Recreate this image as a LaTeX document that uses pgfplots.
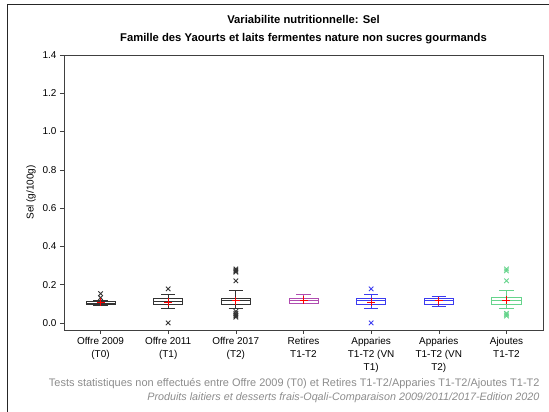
\documentclass[border=0pt]{standalone}
\usepackage{fontspec}
\setmainfont{Liberation Sans}
\usepackage{pgfplots}
\pgfplotsset{compat=1.18}
\usepgfplotslibrary{statistics}

\definecolor{c2009}{HTML}{333333}
\definecolor{cret}{HTML}{B04CB0}
\definecolor{capp}{HTML}{3C3CF0}
\definecolor{cajo}{HTML}{66D48C}
\definecolor{cfoot}{HTML}{8C8C8C}

\pgfplotsset{
	bx/.style={draw=#1, line width=0.9pt, fill=white, solid, mark=x, mark size=3.2bp,
		mark options={draw=#1, line width=0.9pt, solid}},
}

\begin{document}
\begin{tikzpicture}
\begin{axis}[
	name=ax,
	scale only axis,
	width=479bp, height=275bp,
	xmin=0.46, xmax=7.54,
	ymin=-0.037, ymax=1.4,
	axis line style={draw=black!75, line width=0.8pt},
	tick align=outside,
	tick style={black!75, line width=0.6pt},
	major tick length=4bp,
	xtick={1,...,7},
	xticklabels={{Offre 2009\\(T0)},{Offre 2011\\(T1)},{Offre 2017\\(T2)},{Retires\\T1-T2},{Apparies\\T1-T2 (VN\\T1)},{Apparies\\T1-T2 (VN\\T2)},{Ajoutes\\T1-T2}},
	xticklabel style={align=center, font=\fontsize{10}{13}\selectfont},
	ytick={0,0.2,...,1.4},
	yticklabel style={font=\fontsize{10}{11}\selectfont},
	yticklabel={\pgfmathprintnumber[fixed,fixed zerofill,precision=1]{\tick}},
	/pgf/number format/assume math mode=true,
	xtick pos=bottom, ytick pos=left,
	ylabel={Sel (g/100g)},
	ylabel style={font=\fontsize{10}{11}\selectfont},
	boxplot/draw direction=y,
	boxplot/box extend=0.43,
	boxplot/whisker extend=0.21,
	title style={align=center, font=\bfseries\fontsize{11.3}{14}\selectfont, yshift=2bp},
	title={Variabilite nutritionnelle: Sel\\[4bp]Famille des Yaourts et laits fermentes nature non sucres gourmands},
]
% Offre 2009
\addplot+[bx=c2009,
	boxplot prepared={draw position=1, lower whisker=0.092, lower quartile=0.097, median=0.104, upper quartile=0.113, upper whisker=0.115}]
	coordinates {(1,0.153) (1,0.132)};
% Offre 2011
\addplot+[bx=c2009,
	boxplot prepared={draw position=2, lower whisker=0.078, lower quartile=0.095, median=0.112, upper quartile=0.130, upper whisker=0.148}]
	coordinates {(2,0.178) (2,0.0)};
% Offre 2017
\addplot+[bx=c2009,
	boxplot prepared={draw position=3, lower whisker=0.078, lower quartile=0.099, median=0.116, upper quartile=0.130, upper whisker=0.169}]
	coordinates {(3,0.282) (3,0.276) (3,0.270) (3,0.265) (3,0.22) (3,0.06) (3,0.05) (3,0.042) (3,0.036) (3,0.03)};
% Retires
\addplot+[bx=cret,
	boxplot prepared={draw position=4, lower whisker=0.100, lower quartile=0.100, median=0.118, upper quartile=0.130, upper whisker=0.150}]
	coordinates {};
% Apparies VN T1
\addplot+[bx=capp,
	boxplot prepared={draw position=5, lower whisker=0.078, lower quartile=0.097, median=0.115, upper quartile=0.130, upper whisker=0.150}]
	coordinates {(5,0.178) (5,0.0)};
% Apparies VN T2
\addplot+[bx=capp,
	boxplot prepared={draw position=6, lower whisker=0.088, lower quartile=0.097, median=0.115, upper quartile=0.130, upper whisker=0.139}]
	coordinates {};
% Ajoutes
\addplot+[bx=cajo,
	boxplot prepared={draw position=7, lower whisker=0.078, lower quartile=0.097, median=0.116, upper quartile=0.132, upper whisker=0.170}]
	coordinates {(7,0.282) (7,0.272) (7,0.22) (7,0.05) (7,0.042) (7,0.036)};
% means
\addplot[only marks, mark=+, mark size=4bp, red, line width=0.9pt]
	coordinates {(1,0.107) (2,0.108) (3,0.115) (4,0.118) (5,0.107) (6,0.115) (7,0.12)};
\end{axis}
\node[anchor=east, text=cfoot, font=\fontsize{11}{12}\selectfont] at ([yshift=-54bp]ax.south east) {Tests statistiques non effectués entre Offre 2009 (T0) et Retires T1-T2/Apparies T1-T2/Ajoutes T1-T2};
\node[anchor=east, text=cfoot, font=\itshape\fontsize{10.8}{12}\selectfont] at ([yshift=-68bp]ax.south east) {Produits laitiers et desserts frais-Oqali-Comparaison 2009/2011/2017-Edition 2020};
\draw[black!85, line width=1pt] ([xshift=-57bp,yshift=-82bp]ax.south west) -- ([xshift=-57bp,yshift=325bp]ax.south west) -- ([xshift=485bp,yshift=325bp]ax.south west);
\pgfresetboundingbox
\path ([xshift=-64bp,yshift=-82bp]ax.south west) rectangle ([xshift=485bp,yshift=330bp]ax.south west);
\end{tikzpicture}
\end{document}
